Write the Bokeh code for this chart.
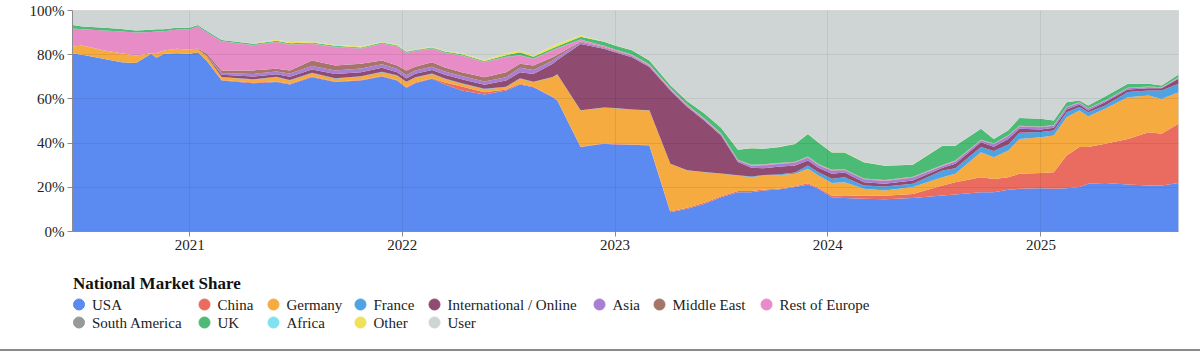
import pandas as pd
from bokeh.plotting import figure
from bokeh.layouts import column
from bokeh.models import (ColumnDataSource, Range1d, FixedTicker, DatetimeTickFormatter,
                          PrintfTickFormatter, Div)
from bokeh.core.properties import value
from bokeh.embed import file_html
from bokeh.resources import INLINE

dates = ["2020-06-14","2020-07-01","2020-08-08","2020-09-06","2020-10-01","2020-10-27","2020-11-05","2020-11-18","2020-12-10","2021-01-01",
         "2021-01-15","2021-01-30","2021-02-25","2021-04-20","2021-05-30","2021-06-22","2021-07-30","2021-09-08","2021-10-22","2021-11-27",
         "2021-12-23","2022-01-08","2022-01-23","2022-02-21","2022-03-15","2022-04-13","2022-05-22","2022-06-28","2022-07-22","2022-08-14",
         "2022-09-16","2022-09-24","2022-11-03","2022-12-13","2023-01-01","2023-01-30","2023-03-01","2023-04-06","2023-05-05","2023-06-03",
         "2023-07-02","2023-07-31","2023-08-23","2023-09-13","2023-10-08","2023-11-06","2023-11-28","2023-12-16","2024-01-08","2024-01-30",
         "2024-03-03","2024-04-08","2024-05-26","2024-07-16","2024-08-07","2024-09-20","2024-10-12","2024-11-06","2024-11-25","2025-01-01",
         "2025-01-23","2025-02-14","2025-03-08","2025-03-23","2025-04-21","2025-05-30","2025-07-05","2025-07-27","2025-08-25"]

usa = [80.5,80.0,78.1,76.6,76.2,80.4,78.6,80.4,80.7,80.4,
       81.1,77.4,68.3,67.1,67.6,66.5,69.8,67.6,68.3,70.1,
       68.3,65.0,67.1,69.1,66.5,63.8,62.0,63.8,66.5,65.3,
       60.8,59.3,38.2,39.7,39.4,39.2,38.9,8.7,10.3,12.5,
       15.5,17.8,17.8,18.6,19.0,20.1,21.3,19.3,15.5,15.2,
       14.8,14.6,15.2,16.3,16.7,17.8,17.8,18.9,19.3,19.6,
       19.3,19.6,20.1,21.6,21.9,21.3,20.8,20.8,21.9]
china = [0,0,0,0,0,0,0,0,0,0,
         0,0,0.3,0.3,0.3,0.3,0.3,0.3,0.3,0.3,
         0.3,0.3,0.3,0.3,0.9,1.8,1.0,0.5,0.3,0.3,
         0.2,0.2,0.2,0.2,0.2,0.2,0.2,0.5,0.5,0.5,
         0.5,0.5,0.5,0.4,0.4,0.4,0.5,0.5,0.8,0.9,
         1.5,1.6,1.8,4.5,5.6,6.8,6.0,5.7,6.8,6.9,
         7.5,14.8,18.1,16.6,17.8,20.6,24.1,23.4,26.8]
germany = [3.2,4.2,3.8,4.1,3.4,0.3,2.1,1.5,2.0,1.8,
           1.4,2.0,1.3,1.3,1.9,1.5,1.5,1.2,1.5,1.7,
           1.9,2.3,2.2,1.9,1.6,1.3,1.4,1.0,2.3,2.0,
           8.8,11.5,16.4,16.1,16.2,15.7,15.7,21.4,16.8,13.8,
           10.1,7.0,6.3,6.3,6.0,5.6,6.6,5.5,5.6,6.2,
           3.0,2.4,3.1,3.8,3.8,11.3,9.8,12.0,15.8,16.2,
           16.6,17.3,16.6,13.8,15.8,18.9,16.6,15.8,14.3]
france = [0,0,0,0,0,0,0,0,0,0,
          0,0,0,0.2,0.2,0.2,0.2,0.2,0.2,0.2,
          0.2,0.2,0.2,0.2,0.2,0.2,0.2,0.2,0.2,0.2,
          0.1,0.1,0.1,0.1,0.1,0.1,0.1,0.1,0.1,0.1,
          0.1,0.1,0.3,0.3,0.4,0.6,1.5,1.5,2.0,2.2,
          1.5,1.8,1.5,3.0,2.5,2.3,2.8,2.8,2.8,2.3,
          2.3,2.3,1.5,2.0,1.5,2.3,2.3,3.8,3.8]
international = [0,0,0,0,0,0,0,0,0,0,
                 0,0.3,1.0,1.2,1.2,1.5,1.5,2.0,1.8,1.8,
                 1.4,1.4,1.6,1.6,1.7,1.8,1.8,2.8,2.8,3.5,
                 6.0,6.5,29.9,26.6,25.2,23.7,19.5,33.1,28.6,23.3,
                 17.2,6.0,4.0,3.0,3.5,3.2,2.2,2.0,2.2,2.2,
                 1.5,1.2,1.5,1.2,2.0,2.2,2.0,2.5,1.8,1.2,
                 1.2,1.2,1.2,0.8,1.5,1.2,1.0,1.0,2.3]
asia = [0,0,0,0,0,0,0,0,0,0,
        0,0,0.8,1.2,1.2,1.5,1.6,1.6,1.6,1.6,
        1.5,1.5,1.4,1.5,1.5,1.5,1.5,1.5,2.0,1.8,
        1.5,1.2,0.8,0.5,0.5,0.5,0.5,0.5,0.5,0.5,
        0.5,0.6,0.8,1.3,1.2,1.2,1.3,1.2,1.3,1.0,
        1.2,1.2,1.2,0.8,1.0,0.8,1.1,1.3,1.0,1.0,
        1.0,1.0,0.7,0.7,0.5,0.5,0.5,0.2,0.4]
middle_east = [0,0,0,0,0,0,0,0,0,0,
               0.3,1.0,1.2,1.6,1.2,1.4,2.5,2.2,2.2,1.7,
               1.5,2.2,1.8,2.0,1.8,1.7,1.9,2.3,1.8,2.0,
               1.5,1.2,0.4,0.3,0.3,0.2,0.2,0.2,0.2,0.2,
               0.2,0.2,0.2,0.2,0.2,0.2,0.2,0.2,0.2,0.2,
               0.2,0.2,0.2,0.2,0.2,0.1,0.1,0.1,0.1,0.1,
               0.1,0.1,0.1,0.1,0.1,0.1,0.1,0.1,0.1]
rest_of_europe = [8.2,7.3,9.1,9.8,10.4,9.6,9.8,8.7,8.7,9.2,
                  10.1,9.5,13.2,11.3,12.1,11.6,7.5,8.3,6.8,7.5,
                  8.6,7.8,7.0,6.1,6.6,7.5,6.8,6.8,3.7,3.0,
                  3.0,2.8,0.8,0.5,0.4,0.4,0.4,0.3,0.3,0.3,
                  0.3,0.2,0.2,0.2,0.2,0.2,0.2,0.2,0.2,0.2,
                  0.2,0.2,0.2,0.2,0.2,0.1,0.1,0.1,0.1,0.1,
                  0.1,0.1,0.1,0.1,0.1,0.1,0.1,0.1,0.1]
south_america = [0,0,0,0,0,0,0,0,0,0,
                 0,0,0,0.2,0.2,0.2,0.2,0.2,0.2,0.2,
                 0.2,0.2,0.2,0.2,0.2,0.2,0.2,0.2,0.2,0.2,
                 0.2,0.2,0.1,0.1,0.1,0.1,0.1,0.1,0.1,0.1,
                 0.1,0.1,0.1,0.1,0.1,0.1,0.1,0.1,0.1,0.1,
                 0.1,0.1,0.1,0.1,0.1,0.1,0.1,0.1,0.1,0.1,
                 0.1,0.1,0.1,0.1,0.1,0.1,0.1,0.1,0.1]
uk = [1.5,1.3,1.2,1.1,1.0,1.0,1.0,0.9,0.8,0.8,
      0.5,0.6,0.6,0.5,0.4,0.5,0.4,0.4,0.4,0.4,
      0.4,0.4,0.3,0.4,0.4,0.4,0.4,0.7,1.3,0.8,
      0.8,0.8,1.2,1.8,1.8,1.9,1.8,1.3,1.5,2.2,
      2.4,4.5,7.5,7.0,7.1,8.0,10.2,9.8,7.9,7.6,
      7.3,6.5,5.4,8.7,6.7,5.0,2.0,2.3,3.6,3.5,
      2.0,2.0,0.8,1.2,1.8,1.7,1.2,0.8,1.2]
africa = [0,0,0,0,0,0,0,0,0,0,
          0,0,0,0,0,0,0,0,0,0,
          0,0,0,0,0,0,0,0,0,0,
          0,0,0,0,0,0,0,0,0,0,
          0,0,0,0,0,0,0,0,0,0,
          0,0,0,0,0,0,0,0,0,0,
          0,0,0,0,0,0,0,0,0]
other = [0,0,0,0,0,0,0,0,0,0,
         0,0,0,0.2,0.5,0.5,0.4,0.4,0.4,0.2,
         0.3,0.3,0.3,0.3,0.3,0.4,0.4,0.8,0.8,0.7,
         1.0,1.0,0.6,0.1,0.1,0.1,0.1,0.1,0.1,0.1,
         0.1,0.1,0.1,0.1,0.1,0.1,0.1,0.1,0.1,0.1,
         0.1,0.1,0.1,0.1,0.1,0,0,0,0,0,
         0,0,0,0,0,0,0,0,0]
user = [6.6,7.2,7.8,8.4,9.0,8.7,8.5,8.5,7.8,7.8,
        6.6,9.2,13.3,14.9,13.2,14.3,14.1,15.6,16.3,14.3,
        15.4,18.4,17.6,16.4,18.3,19.4,22.4,19.4,18.1,20.2,
        16.1,15.2,11.3,14.0,15.7,17.9,22.5,33.7,41.0,46.4,
        53.0,62.9,62.2,62.5,61.8,60.3,55.8,59.6,64.1,64.1,
        68.6,70.1,69.7,61.1,61.1,53.5,58.2,54.2,48.6,49.0,
        49.8,41.5,40.7,43.0,38.9,33.2,33.2,33.9,29.0]

series_names = ["USA", "China", "Germany", "France", "International / Online", "Asia",
                "Middle East", "Rest of Europe", "South America", "UK", "Africa", "Other", "User"]
series_values = [usa, china, germany, france, international, asia, middle_east,
                 rest_of_europe, south_america, uk, africa, other, user]
colors = ["#5B8AF0", "#EA6B5F", "#F5AB40", "#4FA3E2", "#8F4B70", "#A87FD4",
          "#A6756A", "#E88CC8", "#999999", "#4CBB76", "#80E2F0", "#EEE25A", "#CFD5D5"]
year_ticks = ["2021-01-01", "2022-01-01", "2023-01-01", "2024-01-01", "2025-01-01"]
pct_ticks = [0, 20, 40, 60, 80, 100]
legend_title = "National Market Share"

FONT = "Liberation Serif"
LEFT, RIGHT_PAD = 72, 22

# ---------------- main chart ----------------
x = pd.to_datetime(dates)
data = {"date": x}
for name, vals in zip(series_names, series_values):
    data[name] = vals
source = ColumnDataSource(data)

p = figure(width=1200, height=262, x_axis_type="datetime", output_backend="svg",
           toolbar_location=None,
           x_range=Range1d(x.min(), x.max()), y_range=Range1d(0, 100),
           min_border_left=LEFT, min_border_right=RIGHT_PAD, min_border_top=10, min_border_bottom=31)
p.varea_stack(stackers=series_names, x="date", color=colors, source=source)

p.xaxis.ticker = FixedTicker(ticks=[pd.Timestamp(t).value / 1e6 for t in year_ticks])
p.xaxis.formatter = DatetimeTickFormatter(years="%Y", months="%Y", days="%Y", hours="%Y",
                                          minutes="%Y", seconds="%Y", milliseconds="%Y",
                                          microseconds="%Y", minsec="%Y", hourmin="%Y")
p.yaxis.ticker = FixedTicker(ticks=pct_ticks)
p.yaxis.formatter = PrintfTickFormatter(format="%d%%")

for ax in (p.xaxis, p.yaxis):
    ax.axis_line_color = "#8c8c8c"
    ax.major_tick_line_color = "#8c8c8c"
    ax.major_tick_out = 5
    ax.major_tick_in = 0
    ax.minor_tick_line_color = None
    ax.major_label_text_font = FONT
    ax.major_label_text_font_size = "15px"
    ax.major_label_text_color = "#222222"
    ax.major_label_standoff = 3

p.grid.level = "overlay"
p.grid.grid_line_color = "#000000"
p.grid.grid_line_alpha = 0.07
p.outline_line_color = "#d8d8d8"

# ---------------- legend strip (x/y given in page pixels) ----------------
LEG_TOP, LEG_BOTTOM = 262, 349
col_x = [78.5, 204, 273, 360, 434, 599, 659, 766]   # marker centres of the 8 legend columns
row_y = [304, 322]
marker_x = [col_x[i % 8] for i in range(len(series_names))]
marker_y = [row_y[i // 8] for i in range(len(series_names))]
label_x = [mx + 13 for mx in marker_x]

leg_src = ColumnDataSource(dict(mx=marker_x, my=marker_y, lx=label_x, label=series_names, color=colors))

lg = figure(width=1200, height=LEG_BOTTOM - LEG_TOP, output_backend="svg", toolbar_location=None,
            x_range=Range1d(LEFT, 1200 - RIGHT_PAD), y_range=Range1d(LEG_BOTTOM, LEG_TOP),
            min_border_left=LEFT, min_border_right=RIGHT_PAD, min_border_top=0, min_border_bottom=0,
            outline_line_color=None)
lg.axis.visible = False
lg.grid.visible = False
lg.scatter(x="mx", y="my", size=11, fill_color="color", line_color="color", source=leg_src)
lg.text(x="lx", y="my", text="label", source=leg_src, text_font=value(FONT),
        text_font_size="15px", text_baseline="middle", text_align="left", text_color="#222222")
lg.text(x=[72.5], y=[283], text=[legend_title], text_font=value(FONT), text_font_size="17px",
        text_font_style="bold", text_baseline="middle", text_align="left", text_color="#111111")

line = Div(width=1200, height=2, margin=(0, 0, 0, 0), styles={"background-color": "#8a8a8a"})
layout = column(p, lg, line, spacing=0)

open("out.html", "w").write(file_html(layout, INLINE))
